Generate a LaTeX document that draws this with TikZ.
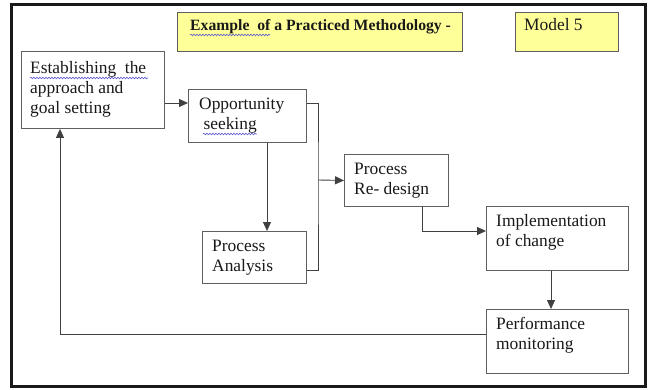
\documentclass[tikz,border=0pt]{standalone}
\usepackage{fontspec}
\setmainfont{Liberation Serif}
\usetikzlibrary{arrows.meta,decorations.pathmorphing}
\definecolor{titleyellow}{RGB}{255,255,153}
\definecolor{boxline}{RGB}{95,95,95}
\definecolor{squig}{RGB}{90,90,210}
\begin{document}
\begin{tikzpicture}[x=1pt,y=-1pt,
  box/.style={draw=boxline, line width=0.9pt, fill=white, inner sep=0pt, anchor=north west},
  ybox/.style={box, fill=titleyellow},
  txt/.style={inner sep=0pt, anchor=base west, align=left, font=\fontsize{17.4}{20}\selectfont, text=black!90},
  conn/.style={draw=black!75, line width=0.9pt},
  arr/.style={conn, -{Triangle[length=9pt,width=8pt]}},
  wavy/.style={draw=squig, line width=0.6pt, decorate, decoration={snake, amplitude=0.8pt, segment length=3pt}}]
\useasboundingbox (0,0) rectangle (650,390);
\fill[white] (0,0) rectangle (650,390);
\draw[line width=3pt, draw=black!90] (11.5,5) rectangle (645.5,386);

% title boxes
\node[ybox, minimum width=285pt, minimum height=39pt] (title) at (177,12) {};
\node[txt, font=\fontsize{15.7}{19}\selectfont\bfseries] (titleT) at (190,31) {Example\ \ of a Practiced Methodology -};
\node[ybox, minimum width=103pt, minimum height=39pt] (model) at (515,12) {};
\node[txt] (modelT) at (524,31) {Model 5};

% process boxes (text anchored at the baseline of its last line)
\node[box, minimum width=143pt, minimum height=77pt] (est) at (21,51) {};
\node[txt] (estT) at (30,114) {Establishing\ \ the\\approach and\\goal setting};
\node[box, minimum width=118pt, minimum height=53pt] (opp) at (188,89) {};
\node[txt] (oppT) at (199,130) {Opportunity\\\ seeking};
\node[box, minimum width=104pt, minimum height=52pt] (pa) at (202,231) {};
\node[txt] (paT) at (212,271) {Process\\Analysis};
\node[box, minimum width=104pt, minimum height=52pt] (rd) at (344,154) {};
\node[txt] (rdT) at (354,194) {Process\\Re- design};
\node[box, minimum width=142pt, minimum height=64pt] (imp) at (486,206) {};
\node[txt] (impT) at (496,246) {Implementation\\of change};
\node[box, minimum width=142pt, minimum height=64pt] (perf) at (486,309) {};
\node[txt] (perfT) at (496,349) {Performance\\monitoring};

% spell-check squiggles
\draw[wavy] (190,35) -- (270,35);
\draw[wavy] (30,78) -- (148,78);
\draw[wavy] (203,134) -- (257,134);

% connector reference points
\coordinate (a1) at (0,103);
\coordinate (bus) at (318,180);
\coordinate (a2) at (0,270);
\coordinate (a3) at (267,0);
\coordinate (a4) at (422,231);
\coordinate (a5) at (551,0);
\coordinate (a6) at (60,334);

% connectors
\draw[arr] (est.east |- a1) -- (opp.west |- a1);
\draw[conn] (opp.east |- a1) -| (bus) |- (pa.east |- a2);
\draw[arr] (bus) -- (rd.west);
\draw[arr] (opp.south -| a3) -- (pa.north -| a3);
\draw[arr] (rd.south -| a4) |- (imp.west |- a4);
\draw[arr] (imp.south -| a5) -- (perf.north -| a5);
\draw[arr] (perf.west |- a6) -| (est.south -| a6);
\end{tikzpicture}
\end{document}
